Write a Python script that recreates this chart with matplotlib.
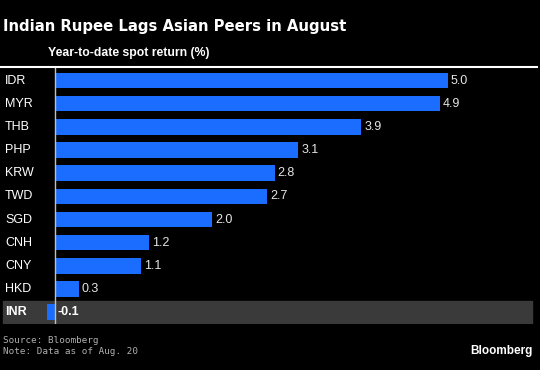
import matplotlib
matplotlib.use("Agg")
import matplotlib.pyplot as plt
from matplotlib.lines import Line2D

categories = ["IDR", "MYR", "THB", "PHP", "KRW", "TWD", "SGD", "CNH", "CNY", "HKD", "INR"]
values = [5.0, 4.9, 3.9, 3.1, 2.8, 2.7, 2.0, 1.2, 1.1, 0.3, -0.1]
value_labels = ["5.0", "4.9", "3.9", "3.1", "2.8", "2.7", "2.0", "1.2", "1.1", "0.3", "-0.1"]
highlight = "INR"

W, H = 540, 370
fig = plt.figure(figsize=(W / 100, H / 100), dpi=100, facecolor="black")
plt.rcParams["font.family"] = ["Liberation Sans", "DejaVu Sans"]

def fx(px):
    return px / W

def fy(py):
    return 1 - py / H

# axes area
top_px, bot_px = 66.7, 324.0
ax = fig.add_axes([0, fy(bot_px), 1, fy(top_px) - fy(bot_px)])
ax.set_facecolor("black")
for s in ax.spines.values():
    s.set_visible(False)
ax.set_xticks([])
ax.set_yticks([])

zero_px = 55.0
ppu = 78.5
ax.set_xlim(-zero_px / ppu, (W - zero_px) / ppu)
row0, step = 80.5, 23.17
ax.set_ylim((bot_px - row0) / step, (top_px - row0) / step)

blue = "#1a6dff"
for i, (c, v, lab) in enumerate(zip(categories, values, value_labels)):
    if c == highlight:
        ax.axhspan(i - 0.5, i + 0.5, xmin=2.7 / W, xmax=532 / W, color="#3a3a3a", zorder=0)
    ax.barh(i, v, height=0.67, color=blue, zorder=2)
    bold = c == highlight
    xlab = max(v, 0) + 3 / ppu
    ax.text(xlab, i, lab, color="white" if bold else "#e6e6e6", fontsize=9,
            fontweight="bold" if bold else "normal", va="center", ha="left", zorder=3)
    ax.text(-zero_px / ppu + 5 / ppu, i, c, color="white", fontsize=9,
            fontweight="bold" if bold else "normal", va="center", ha="left", zorder=3)

ax.axvline(0, color="#bfbfbf", linewidth=1.0, zorder=4)

# header line
fig.add_artist(Line2D([0, fx(537)], [fy(66.7), fy(66.7)], color="white", linewidth=1.5))

fig.text(fx(3), fy(26.5), "Indian Rupee Lags Asian Peers in August", color="white",
         fontsize=10.7, fontweight="bold", va="center", ha="left", family=["DejaVu Sans"])
fig.text(fx(48), fy(53.3), "Year-to-date spot return (%)", color="white",
         fontsize=8.8, fontweight="bold", va="center", ha="left")

fig.text(fx(3), fy(340.7), "Source: Bloomberg", color="#b0b0b0", fontsize=6.7,
         va="center", ha="left", family=["DejaVu Sans Mono"])
fig.text(fx(3), fy(351.7), "Note: Data as of Aug. 20", color="#b0b0b0", fontsize=6.7,
         va="center", ha="left", family=["DejaVu Sans Mono"])
fig.text(fx(533), fy(350.7), "Bloomberg", color="white", fontsize=8.5, fontweight="bold",
         va="center", ha="right")

fig.savefig("out.png", dpi=100, facecolor="black")
